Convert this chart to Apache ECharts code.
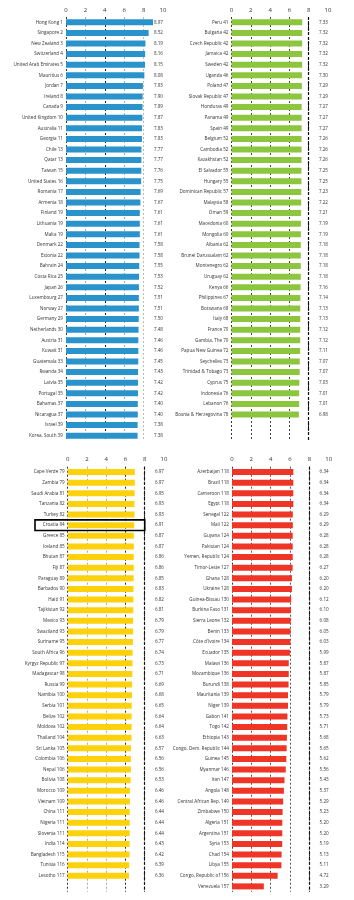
<!DOCTYPE html>
<html>
<head>
<meta charset="utf-8">
<script src="https://cdn.jsdelivr.net/npm/echarts@6/dist/echarts.min.js"></script>
<style>
html, body { margin: 0; padding: 0; background: #fff; }
#main { width: 354px; height: 900px; }
</style>
</head>
<body>
<div id="main"></div>
<script>
// x axis ticks
var ticks = [0, 2, 4, 6, 8, 10]

// 1-40
var blueNames = ['Hong Kong', 'Singapore', 'New Zealand', 'Switzerland', 'United Arab Emirates', 'Mauritius', 'Jordan', 'Ireland', 'Canada', 'United Kingdom',
  'Australia', 'Georgia', 'Chile', 'Qatar', 'Taiwan', 'United States', 'Romania', 'Armenia', 'Finland', 'Lithuania',
  'Malta', 'Denmark', 'Estonia', 'Bahrain', 'Costa Rica', 'Japan', 'Luxembourg', 'Norway', 'Germany', 'Netherlands',
  'Austria', 'Kuwait', 'Guatemala', 'Rwanda', 'Latvia', 'Portugal', 'Bahamas', 'Nicaragua', 'Israel', 'Korea, South']
var blueRanks = [1, 2, 3, 4, 5, 6, 7, 8, 9, 10, 11, 11, 13, 13, 15, 16, 17, 18, 19, 19,
  19, 22, 22, 24, 25, 26, 27, 27, 29, 30, 31, 31, 33, 34, 35, 35, 37, 37, 39, 39]
var blueScores = [8.97, 8.52, 8.19, 8.16, 8.15, 8.08, 7.93, 7.90, 7.89, 7.87, 7.83, 7.83, 7.77, 7.77, 7.76, 7.75, 7.69, 7.67, 7.61, 7.61,
  7.61, 7.58, 7.58, 7.55, 7.53, 7.52, 7.51, 7.51, 7.50, 7.48, 7.46, 7.46, 7.45, 7.43, 7.42, 7.42, 7.40, 7.40, 7.38, 7.38]

// 41-78
var greenNames = ['Peru', 'Bulgaria', 'Czech Republic', 'Jamaica', 'Sweden', 'Uganda', 'Poland', 'Slovak Republic', 'Honduras', 'Panama',
  'Spain', 'Belgium', 'Cambodia', 'Kazakhstan', 'El Salvador', 'Hungary', 'Dominican Republic', 'Malaysia', 'Oman', 'Macedonia',
  'Mongolia', 'Albania', 'Brunei Darussalam', 'Montenegro', 'Uruguay', 'Kenya', 'Philippines', 'Botswana', 'Italy', 'France',
  'Gambia, The', 'Papua New Guinea', 'Seychelles', 'Trinidad & Tobago', 'Cyprus', 'Indonesia', 'Lebanon', 'Bosnia & Herzegovina']
var greenRanks = [41, 42, 42, 42, 42, 46, 47, 47, 49, 49, 49, 52, 52, 52, 55, 55, 57, 58, 59, 60,
  60, 62, 62, 62, 62, 66, 67, 68, 68, 70, 70, 72, 73, 73, 75, 76, 76, 78]
var greenScores = [7.33, 7.32, 7.32, 7.32, 7.32, 7.30, 7.29, 7.29, 7.27, 7.27, 7.27, 7.26, 7.26, 7.26, 7.25, 7.25, 7.23, 7.22, 7.21, 7.19,
  7.19, 7.18, 7.18, 7.18, 7.18, 7.16, 7.14, 7.13, 7.13, 7.12, 7.12, 7.11, 7.07, 7.07, 7.03, 7.01, 7.01, 6.98]

// 79-117
var yellowNames = ['Cape Verde', 'Zambia', 'Saudi Arabia', 'Tanzania', 'Turkey', 'Croatia', 'Greece', 'Iceland', 'Bhutan', 'Fiji',
  'Paraguay', 'Barbados', 'Haiti', 'Tajikistan', 'Mexico', 'Swaziland', 'Suriname', 'South Africa', 'Kyrgyz Republic', 'Madagascar',
  'Russia', 'Namibia', 'Serbia', 'Belize', 'Moldova', 'Thailand', 'Sri Lanka', 'Colombia', 'Nepal', 'Bolivia',
  'Morocco', 'Vietnam', 'China', 'Nigeria', 'Slovenia', 'India', 'Bangladesh', 'Tunisia', 'Lesotho']
var yellowRanks = [79, 79, 81, 82, 82, 84, 85, 85, 87, 87, 89, 90, 91, 92, 93, 93, 95, 96, 97, 98,
  99, 100, 101, 102, 102, 104, 105, 106, 106, 108, 109, 109, 111, 111, 111, 114, 115, 116, 117]
var yellowScores = [6.97, 6.97, 6.95, 6.93, 6.93, 6.91, 6.87, 6.87, 6.86, 6.86, 6.85, 6.83, 6.82, 6.81, 6.79, 6.79, 6.77, 6.74, 6.73, 6.71,
  6.69, 6.68, 6.65, 6.64, 6.64, 6.63, 6.57, 6.56, 6.56, 6.53, 6.46, 6.46, 6.44, 6.44, 6.44, 6.43, 6.42, 6.39, 6.36]

// 118-157
var redNames = ['Azerbaijan', 'Brazil', 'Cameroon', 'Egypt', 'Senegal', 'Mali', 'Guyana', 'Pakistan', 'Yemen, Republic', 'Timor-Leste',
  'Ghana', 'Ukraine', 'Guinea-Bissau', 'Burkina Faso', 'Sierra Leone', 'Benin', "Côte d'Ivoire", 'Ecuador', 'Malawi', 'Mozambique',
  'Burundi', 'Mauritania', 'Niger', 'Gabon', 'Togo', 'Ethiopia', 'Congo, Dem. Republic', 'Guinea', 'Myanmar', 'Iran',
  'Angola', 'Central African Rep.', 'Zimbabwe', 'Algeria', 'Argentina', 'Syria', 'Chad', 'Libya', 'Congo, Republic of', 'Venezuela']
var redRanks = [118, 118, 118, 118, 122, 122, 124, 124, 124, 127, 128, 128, 130, 131, 132, 133, 134, 135, 136, 136,
  138, 139, 139, 141, 142, 143, 144, 145, 146, 147, 148, 149, 150, 151, 151, 153, 154, 155, 156, 157]
var redScores = [6.34, 6.34, 6.34, 6.34, 6.29, 6.29, 6.28, 6.28, 6.28, 6.27, 6.20, 6.20, 6.12, 6.10, 6.08, 6.05, 6.03, 5.99, 5.87, 5.87,
  5.85, 5.79, 5.79, 5.73, 5.71, 5.68, 5.65, 5.62, 5.56, 5.43, 5.37, 5.29, 5.23, 5.20, 5.20, 5.19, 5.13, 5.11, 4.72, 3.29]

var highlightName = 'Croatia'

var FONT = 'Open Sans'

var panels = [
  { names: blueNames, ranks: blueRanks, scores: blueScores, color: '#2a93cb',
    grid: { left: 66, top: 17, width: 97, height: 424 },
    lines: ['#333', '#aaa', '#222', '#aaa', '#bbb', 'rgba(0,0,0,0)'], mark: false },
  { names: greenNames, ranks: greenRanks, scores: greenScores, color: '#8cc63e',
    grid: { left: 231.5, top: 17, width: 96.5, height: 424 },
    lines: ['#333', '#444', '#444', '#444', '#222', 'rgba(0,0,0,0)'], mark: true },
  { names: yellowNames, ranks: yellowRanks, scores: yellowScores, color: '#fdd20c',
    grid: { left: 67.7, top: 466.7, width: 96.3, height: 425 },
    lines: ['#333', '#aaa', '#aaa', '#222', '#222', 'rgba(0,0,0,0)'], mark: true },
  { names: redNames, ranks: redRanks, scores: redScores, color: '#ee3526',
    grid: { left: 232, top: 466.7, width: 96.7, height: 425 },
    lines: ['#333', '#555', '#555', '#555', '#222', 'rgba(0,0,0,0)'], mark: true }
]

var grids = []
var xAxes = []
var yAxes = []
var series = []

panels.forEach(function (p, i) {
  var cats = p.names.map(function (n, k) { return n + ' ' + p.ranks[k] })
  grids.push(p.grid)
  xAxes.push({
    type: 'value',
    gridIndex: i,
    position: 'top',
    min: ticks[0],
    max: ticks[ticks.length - 1],
    interval: 2,
    axisLine: { show: false },
    axisTick: { show: false },
    axisLabel: { fontFamily: FONT, fontSize: 6, color: '#333', margin: 4 },
    splitLine: { show: true, lineStyle: { color: p.lines, type: [2, 2], width: 1 } }
  })
  yAxes.push({
    type: 'category',
    gridIndex: i,
    inverse: true,
    data: cats,
    max: 39,
    axisLine: { show: false },
    axisTick: { show: false },
    axisLabel: {
      fontFamily: FONT, fontSize: 4.6, color: '#333', margin: 3, interval: 0,
      formatter: function (v) { return v == null ? '' : v }
    }
  })
  yAxes.push({
    type: 'category',
    gridIndex: i,
    position: 'right',
    inverse: true,
    data: p.scores.map(function (v) { return v.toFixed(2) }),
    max: 39,
    axisLine: { show: false },
    axisTick: { show: false },
    axisLabel: {
      inside: true, fontFamily: FONT, fontSize: 4.6, color: '#333', margin: 0, interval: 0,
      formatter: function (v) { return v == null ? '' : v }
    }
  })
  series.push({
    type: 'bar',
    xAxisIndex: i,
    yAxisIndex: i * 2,
    data: p.scores,
    barWidth: 6,
    itemStyle: { color: p.color },
    silent: true,
    markLine: p.mark ? {
      silent: true,
      symbol: 'none',
      label: { show: false },
      lineStyle: { color: '#111', type: [3, 2], width: 1.2 },
      data: [{ xAxis: 8 }]
    } : undefined
  })
})

var chart = echarts.init(document.getElementById('main'))
chart.setOption({
  animation: false,
  backgroundColor: '#fff',
  grid: grids,
  xAxis: xAxes,
  yAxis: yAxes,
  series: series
})

// box round the highlighted country
var hi = yellowNames.indexOf(highlightName)
var hiCat = yellowNames[hi] + ' ' + yellowRanks[hi]
var pA = chart.convertToPixel({ xAxisIndex: 2, yAxisIndex: 4 }, [8, hi])
var pB = chart.convertToPixel({ xAxisIndex: 2, yAxisIndex: 4 }, [8, hi + 1])
var band = pB[1] - pA[1]
var boxLeft = 35
chart.setOption({
  graphic: [{
    type: 'rect',
    shape: { x: boxLeft, y: pA[1] - band / 2, width: pA[0] - boxLeft, height: band },
    style: { fill: 'none', stroke: '#000', lineWidth: 1.6 },
    z: 100
  }]
})
</script>
</body>
</html>
